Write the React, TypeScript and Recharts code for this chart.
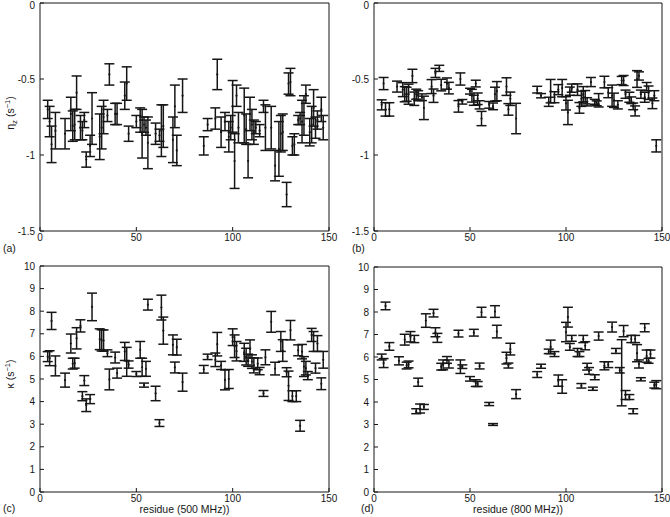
import { ScatterChart, Scatter, XAxis, YAxis, ErrorBar, Label } from "recharts";

// [residue, value, error]
type Row = [number, number, number];

const xTicks = [0, 50, 100, 150];
const etaTicks = [-1.5, -1, -0.5, 0];
const kappaTicks = [0, 1, 2, 3, 4, 5, 6, 7, 8, 9, 10];

const eta500: Row[] = [
  [4, -0.7, 0.06], [5, -0.78, 0.1], [6, -0.93, 0.12], [8, -0.84, 0.12], [13, -0.86, 0.1],
  [16, -0.73, 0.11], [17, -0.81, 0.1], [18, -0.8, 0.1], [19, -0.59, 0.11], [21, -0.82, 0.08],
  [22, -0.84, 0.06], [23, -0.77, 0.05], [24, -1.03, 0.05], [26, -0.94, 0.07], [27, -0.76, 0.17],
  [31, -0.88, 0.15], [32, -0.82, 0.14], [33, -0.75, 0.11], [35, -0.74, 0.04], [36, -0.47, 0.07],
  [39, -0.73, 0.07], [40, -0.73, 0.07], [44, -0.61, 0.09], [45, -0.53, 0.11], [46, -0.86, 0.05],
  [50, -0.78, 0.04], [52, -0.77, 0.08], [53, -0.86, 0.16], [54, -0.8, 0.05], [55, -0.82, 0.05],
  [56, -0.92, 0.17], [60, -0.86, 0.07], [62, -0.87, 0.04], [63, -0.84, 0.17], [64, -0.81, 0.14],
  [69, -0.9, 0.15], [70, -0.68, 0.14], [71, -0.97, 0.1], [74, -0.61, 0.11], [85, -0.94, 0.06],
  [87, -0.8, 0.04], [91, -0.76, 0.07], [92, -0.47, 0.1], [94, -0.85, 0.1], [96, -0.78, 0.06],
  [98, -0.88, 0.1], [99, -0.82, 0.08], [100, -0.68, 0.17], [101, -1.04, 0.18], [102, -0.61, 0.07],
  [103, -0.82, 0.1], [106, -0.74, 0.18], [107, -0.83, 0.1], [108, -1.04, 0.11], [109, -0.73, 0.11],
  [110, -0.8, 0.1], [111, -0.85, 0.08], [112, -0.82, 0.04], [114, -0.84, 0.04], [116, -0.68, 0.04],
  [117, -0.82, 0.15], [120, -0.82, 0.14], [122, -1.07, 0.1], [124, -0.96, 0.18], [125, -0.86, 0.12],
  [126, -0.85, 0.12], [128, -1.26, 0.08], [129, -0.53, 0.07], [130, -0.52, 0.09], [131, -0.94, 0.06],
  [132, -0.93, 0.07], [134, -0.77, 0.03], [135, -0.76, 0.04], [136, -0.78, 0.14], [137, -0.74, 0.13],
  [138, -0.6, 0.06], [140, -0.85, 0.09], [141, -0.8, 0.12], [142, -0.69, 0.12], [143, -0.82, 0.07],
  [144, -0.77, 0.06], [146, -0.7, 0.08], [147, -0.82, 0.08],
];

const eta800: Row[] = [
  [4, -0.67, 0.033], [5, -0.53, 0.04], [6, -0.7, 0.044], [8, -0.7, 0.044], [12, -0.55, 0.036],
  [15, -0.57, 0.046], [16, -0.6, 0.05], [17, -0.6, 0.046], [18, -0.6, 0.066], [20, -0.48, 0.044],
  [21, -0.63, 0.044], [22, -0.6, 0.033], [23, -0.61, 0.033], [25, -0.62, 0.022], [26, -0.69, 0.077],
  [30, -0.55, 0.046], [31, -0.61, 0.044], [32, -0.46, 0.03], [34, -0.43, 0.02], [35, -0.54, 0.038],
  [38, -0.53, 0.037], [39, -0.56, 0.038], [44, -0.68, 0.038], [45, -0.5, 0.04], [46, -0.65, 0.015],
  [50, -0.58, 0.019], [51, -0.61, 0.042], [52, -0.64, 0.033], [53, -0.53, 0.022], [54, -0.63, 0.038],
  [55, -0.67, 0.027], [56, -0.76, 0.047], [60, -0.67, 0.022], [62, -0.68, 0.022], [63, -0.6, 0.046],
  [64, -0.58, 0.063], [69, -0.55, 0.058], [70, -0.7, 0.038], [71, -0.63, 0.044], [74, -0.76, 0.1],
  [85, -0.57, 0.022], [87, -0.61, 0.014], [91, -0.65, 0.03], [92, -0.58, 0.077], [94, -0.62, 0.036],
  [96, -0.57, 0.033], [98, -0.56, 0.057], [100, -0.66, 0.044], [101, -0.72, 0.08], [102, -0.58, 0.027],
  [103, -0.56, 0.027], [106, -0.57, 0.038], [107, -0.69, 0.035], [108, -0.63, 0.05], [109, -0.6, 0.05],
  [110, -0.62, 0.044], [111, -0.65, 0.027], [113, -0.52, 0.03], [115, -0.65, 0.016], [116, -0.66, 0.016],
  [117, -0.64, 0.044], [120, -0.52, 0.038], [122, -0.59, 0.033], [124, -0.61, 0.07], [125, -0.64, 0.047],
  [127, -0.67, 0.027], [129, -0.51, 0.027], [130, -0.51, 0.033], [131, -0.6, 0.027], [133, -0.62, 0.033],
  [134, -0.64, 0.022], [135, -0.68, 0.022], [136, -0.71, 0.033], [137, -0.5, 0.055], [138, -0.48, 0.027],
  [139, -0.6, 0.027], [141, -0.62, 0.033], [142, -0.55, 0.027], [143, -0.59, 0.044], [145, -0.66, 0.035],
  [146, -0.61, 0.033], [147, -0.94, 0.04],
];

const kappa500: Row[] = [
  [4, 5.99, 0.22], [5, 5.92, 0.33], [6, 7.57, 0.38], [8, 5.58, 0.44], [13, 4.95, 0.31],
  [16, 6.57, 0.42], [17, 5.68, 0.24], [18, 5.7, 0.22], [19, 6.8, 0.47], [21, 7.35, 0.27],
  [22, 4.24, 0.2], [23, 4.93, 0.22], [24, 3.84, 0.28], [26, 4.11, 0.2], [27, 8.19, 0.61],
  [31, 6.76, 0.46], [32, 6.71, 0.47], [33, 6.7, 0.47], [35, 6.14, 0.15], [36, 4.98, 0.46],
  [39, 5.95, 0.24], [40, 5.26, 0.22], [44, 6.22, 0.4], [45, 5.76, 0.64], [46, 5.64, 0.16],
  [50, 5.22, 0.11], [52, 6.29, 0.37], [53, 5.52, 0.4], [54, 4.73, 0.09], [55, 5.45, 0.33],
  [56, 8.29, 0.24], [60, 4.36, 0.32], [62, 3.05, 0.15], [63, 8.16, 0.55], [64, 7.14, 0.6],
  [69, 6.51, 0.44], [70, 5.51, 0.24], [71, 6.41, 0.35], [74, 4.86, 0.4], [85, 5.43, 0.17],
  [87, 5.98, 0.12], [91, 5.85, 0.3], [92, 6.54, 0.52], [94, 5.6, 0.18], [96, 4.96, 0.44],
  [98, 5.0, 0.42], [100, 6.85, 0.37], [101, 6.45, 0.5], [102, 6.23, 0.43], [106, 6.18, 0.4],
  [107, 5.99, 0.37], [108, 5.83, 0.27], [109, 6.33, 0.4], [110, 5.77, 0.3], [111, 5.6, 0.33],
  [113, 5.67, 0.26], [114, 5.35, 0.16], [116, 4.36, 0.13], [117, 5.96, 0.33], [120, 7.53, 0.46],
  [122, 5.46, 0.28], [125, 6.66, 0.44], [126, 6.26, 0.48], [128, 5.3, 0.2], [129, 4.7, 0.65],
  [130, 7.16, 0.43], [131, 4.24, 0.24], [133, 4.24, 0.24], [134, 6.27, 0.24], [135, 2.93, 0.24],
  [136, 6.21, 0.32], [137, 5.55, 0.44], [138, 5.48, 0.3], [139, 5.15, 0.18], [141, 6.95, 0.29],
  [142, 6.66, 0.44], [143, 5.48, 0.22], [144, 6.57, 0.35], [146, 4.79, 0.26], [147, 5.85, 0.37],
];

const kappa800: Row[] = [
  [4, 6.0, 0.13], [5, 5.73, 0.2], [6, 8.27, 0.17], [8, 6.47, 0.17], [13, 5.83, 0.18],
  [16, 6.77, 0.24], [17, 5.62, 0.15], [18, 5.67, 0.15], [19, 6.9, 0.23], [21, 6.8, 0.16],
  [22, 3.59, 0.11], [23, 4.88, 0.18], [24, 3.71, 0.2], [26, 3.78, 0.11], [27, 7.62, 0.3],
  [31, 7.95, 0.17], [32, 7.1, 0.2], [33, 6.85, 0.2], [35, 5.57, 0.15], [36, 5.65, 0.22],
  [38, 5.87, 0.15], [39, 5.69, 0.18], [44, 7.04, 0.15], [45, 5.57, 0.3], [46, 5.57, 0.08],
  [50, 5.03, 0.1], [52, 7.08, 0.15], [53, 4.84, 0.15], [54, 4.8, 0.11], [55, 5.6, 0.13],
  [56, 7.99, 0.22], [60, 3.91, 0.07], [62, 3.0, 0.04], [63, 8.02, 0.26], [64, 7.13, 0.28],
  [69, 5.95, 0.26], [70, 5.62, 0.11], [71, 6.35, 0.26], [74, 4.35, 0.2], [85, 5.22, 0.13],
  [87, 5.59, 0.09], [91, 6.25, 0.1], [92, 6.45, 0.3], [94, 6.13, 0.11], [96, 4.95, 0.25],
  [98, 4.69, 0.3], [100, 7.11, 0.43], [101, 7.77, 0.44], [102, 6.45, 0.15], [103, 6.83, 0.13],
  [106, 6.2, 0.18], [107, 6.13, 0.11], [108, 4.72, 0.1], [109, 6.8, 0.16], [110, 6.5, 0.18],
  [111, 5.57, 0.15], [112, 5.38, 0.15], [114, 4.59, 0.07], [115, 5.1, 0.11], [117, 6.93, 0.18],
  [120, 5.61, 0.18], [122, 5.66, 0.13], [124, 7.33, 0.22], [126, 6.27, 0.11], [128, 5.41, 0.12],
  [129, 5.3, 1.47], [130, 7.15, 0.25], [131, 4.31, 0.2], [133, 4.22, 0.11], [134, 6.8, 0.16],
  [135, 3.59, 0.11], [136, 6.8, 0.16], [137, 6.17, 0.38], [138, 5.69, 0.18], [139, 5.01, 0.07],
  [141, 7.3, 0.18], [142, 6.04, 0.27], [143, 5.83, 0.11], [144, 6.13, 0.18], [146, 4.75, 0.13],
  [147, 4.77, 0.18],
];

const FONT = '"Liberation Sans", Arial, Helvetica, sans-serif';
const INK = "#161616";

const toPoints = (rows: Row[]) => rows.map(([x, y, err]) => ({ x, y, err }));

function Dot(props: any) {
  const { cx, cy } = props;
  if (cx == null || cy == null) return <g />;
  return <circle cx={cx} cy={cy} r={1.1} fill={INK} />;
}

// y tick label, kept inside the page when it sits on the top edge
function YTick(props: any) {
  const { x, y, payload } = props;
  const ty = Math.max(y, 5);
  return (
    <text x={x} y={ty} dy="0.355em" textAnchor="end" fontSize={10} fontFamily={FONT} fill={INK}>
      {payload.value}
    </text>
  );
}

function EtaTitle({ viewBox }: any) {
  const cx = 14;
  const cy = viewBox.y + viewBox.height / 2 - 4;
  return (
    <text x={cx} y={cy} transform={`rotate(-90 ${cx} ${cy})`} textAnchor="middle" fontSize={10.5} fontFamily={FONT} fill={INK}>
      η<tspan fontSize={8} dy={3}>z</tspan>
      <tspan dy={-3}> (s</tspan>
      <tspan fontSize={7.5} dy={-4}>−1</tspan>
      <tspan dy={4}>)</tspan>
    </text>
  );
}

function KappaTitle({ viewBox }: any) {
  const cx = 14;
  const cy = viewBox.y + viewBox.height / 2 - 5;
  return (
    <text x={cx} y={cy} transform={`rotate(-90 ${cx} ${cy})`} textAnchor="middle" fontSize={10.5} fontFamily={FONT} fill={INK}>
      κ (s<tspan fontSize={7.5} dy={-4}>−1</tspan>
      <tspan dy={4}>)</tspan>
    </text>
  );
}

type PanelProps = {
  rows: Row[];
  yDomain: [number, number];
  yTicks: number[];
  left: number;
  top: number;
  width: number;
  height: number;
  topH: number;
  leftW: number;
  rightM: number;
  title?: "eta" | "kappa";
  xLabel?: string;
  tag: string;
  tagX: number;
  tagY: number;
};

function Panel({ rows, yDomain, yTicks, left, top, width, height, topH, leftW, rightM, title, xLabel, tag, tagX, tagY }: PanelProps) {
  const tickStyle = { fontSize: 10, fill: INK, fontFamily: FONT };
  return (
    <div style={{ position: "absolute", left, top, width, height }}>
      <ScatterChart width={width} height={height} margin={{ top: 0, right: rightM, bottom: 0, left: 0 }}>
        <XAxis
          xAxisId="b"
          dataKey="x"
          type="number"
          domain={[0, 150]}
          ticks={xTicks}
          interval={0}
          height={25}
          tickSize={-4}
          tickMargin={7}
          tick={tickStyle}
          axisLine={{ stroke: INK }}
          tickLine={{ stroke: INK }}
        >
          {xLabel && (
            <Label
              content={({ viewBox }: any) => (
                <text x={viewBox.x + viewBox.width / 2} y={viewBox.y + 21} textAnchor="middle" fontSize={10.5} fontFamily={FONT} fill={INK}>
                  {xLabel}
                </text>
              )}
            />
          )}
        </XAxis>
        <XAxis
          xAxisId="t"
          orientation="top"
          type="number"
          domain={[0, 150]}
          ticks={xTicks}
          interval={0}
          height={topH}
          tickSize={-4}
          tick={false}
          axisLine={{ stroke: INK }}
          tickLine={{ stroke: INK }}
        />
        <YAxis
          yAxisId="l"
          dataKey="y"
          type="number"
          domain={yDomain}
          ticks={yTicks}
          interval={0}
          width={leftW}
          tickSize={-4}
          tickMargin={9}
          tick={<YTick />}
          axisLine={{ stroke: INK }}
          tickLine={{ stroke: INK }}
        >
          {title === "eta" && <Label content={EtaTitle} />}
          {title === "kappa" && <Label content={KappaTitle} />}
        </YAxis>
        <YAxis
          yAxisId="r"
          orientation="right"
          type="number"
          domain={yDomain}
          ticks={yTicks}
          interval={0}
          width={1}
          tickSize={-4}
          tick={false}
          axisLine={{ stroke: INK }}
          tickLine={{ stroke: INK }}
        />
        <Scatter data={toPoints(rows)} xAxisId="b" yAxisId="l" shape={Dot} isAnimationActive={false}>
          <ErrorBar dataKey="err" direction="y" width={5} stroke={INK} strokeWidth={1.5} isAnimationActive={false} />
        </Scatter>
      </ScatterChart>
      <span
        style={{
          position: "absolute",
          left: tagX,
          top: tagY,
          fontSize: 10.5,
          fontFamily: FONT,
          color: INK,
          lineHeight: "12px",
        }}
      >
        {tag}
      </span>
    </div>
  );
}

export default function App() {
  return (
    <div style={{ position: "absolute", left: 0, top: 0, width: 670, height: 517, background: "#fff", overflow: "hidden" }}>
      <style>{`.recharts-surface { overflow: visible; }`}</style>
      <Panel rows={eta500} yDomain={[-1.5, 0]} yTicks={etaTicks} left={0} top={0} width={335} height={256} topH={3} leftW={40} rightM={5} title="eta" tag="(a)" tagX={3} tagY={242} />
      <Panel rows={eta800} yDomain={[-1.5, 0]} yTicks={etaTicks} left={335} top={0} width={335} height={256} topH={3} leftW={39} rightM={7} tag="(b)" tagX={17} tagY={242} />
      <Panel rows={kappa500} yDomain={[0, 10]} yTicks={kappaTicks} left={0} top={256} width={335} height={261} topH={10} leftW={40} rightM={5} title="kappa" xLabel="residue (500 MHz))" tag="(c)" tagX={3} tagY={246} />
      <Panel rows={kappa800} yDomain={[0, 10]} yTicks={kappaTicks} left={335} top={256} width={335} height={261} topH={11} leftW={39} rightM={7} xLabel="residue (800 MHz))" tag="(d)" tagX={26} tagY={246} />
    </div>
  );
}
